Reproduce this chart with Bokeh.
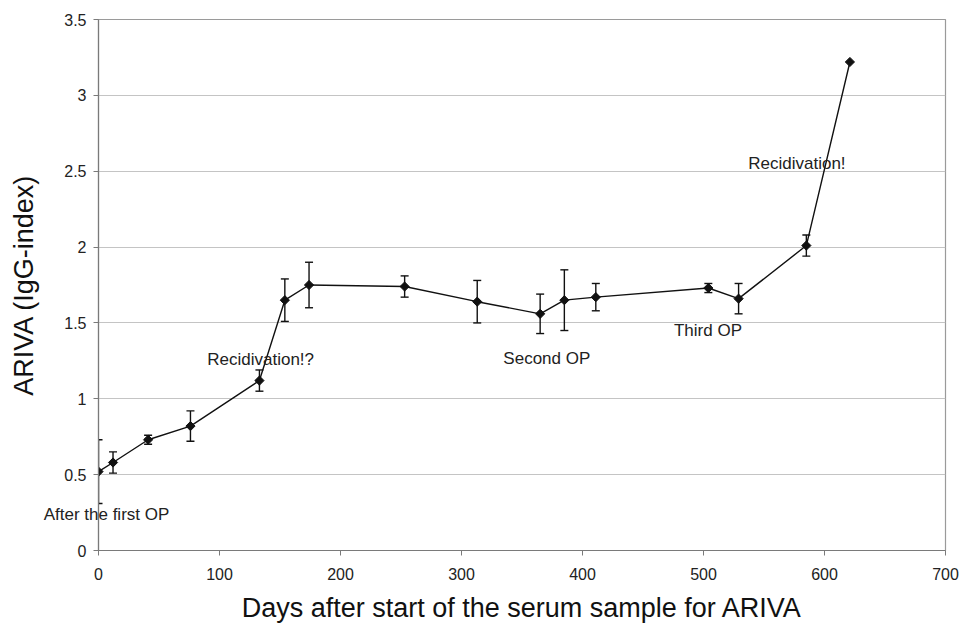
import math
from bokeh.plotting import figure
from bokeh.models import ColumnDataSource, Whisker, Label, FixedTicker, NumeralTickFormatter, Range1d
from bokeh.embed import file_html
from bokeh.resources import INLINE

# ---- data ----
days = [0, 12, 41, 76, 133, 154, 174, 253, 313, 365, 385, 411, 504, 529, 585, 621]
ariva = [0.52, 0.58, 0.73, 0.82, 1.12, 1.65, 1.75, 1.74, 1.64, 1.56, 1.65, 1.67, 1.73, 1.66, 2.01, 3.22]
err = [0.21, 0.07, 0.03, 0.10, 0.07, 0.14, 0.15, 0.07, 0.14, 0.13, 0.20, 0.09, 0.03, 0.10, 0.07, 0.0]

note_text = ["After the first OP", "Recidivation!?", "Second OP", "Third OP", "Recidivation!"]
note_x = [6.6, 134, 370.5, 503.7, 577.2]
note_y = [0.237, 1.259, 1.264, 1.448, 2.549]

x_ticks = [0, 100, 200, 300, 400, 500, 600, 700]
y_ticks = [0, 0.5, 1, 1.5, 2, 2.5, 3, 3.5]

FONT = "Liberation Sans"

p = figure(width=962, height=625, output_backend="svg", toolbar_location=None,
           x_range=Range1d(0, 700), y_range=Range1d(0, 3.5))
p.min_border_left = 98
p.min_border_right = 17
p.min_border_top = 18
p.min_border_bottom = 74
p.background_fill_color = "white"
p.border_fill_color = "white"
p.outline_line_color = "#9a9a9a"
p.outline_line_width = 1.2

# grid
p.xgrid.grid_line_color = None
p.ygrid.grid_line_color = "#c4c4c4"
p.ygrid.grid_line_width = 1.2

for ax in (p.xaxis[0], p.yaxis[0]):
    ax.axis_line_color = "#7a7a7a"
    ax.axis_line_width = 1.2
    ax.major_tick_line_color = "#7a7a7a"
    ax.major_tick_out = 5
    ax.major_tick_in = 0
    ax.minor_tick_line_color = None
    ax.major_label_text_font = FONT
    ax.major_label_text_font_size = "16px"
    ax.major_label_text_color = "#222222"
    ax.axis_label_text_font = FONT
    ax.axis_label_text_font_size = "27px"
    ax.axis_label_text_font_style = "normal"
    ax.axis_label_text_color = "#111111"

p.xaxis.ticker = FixedTicker(ticks=x_ticks)
p.yaxis.ticker = FixedTicker(ticks=y_ticks)
p.yaxis.formatter = NumeralTickFormatter(format="0.[0]")
p.xaxis.axis_label = "Days after start of the serum sample for ARIVA"
p.yaxis.axis_label = "ARIVA (IgG-index)"
p.xaxis.major_label_standoff = 12
p.xaxis.axis_label_standoff = 10
p.yaxis.major_label_standoff = 7
p.yaxis.axis_label_standoff = 22

# error bars
eb_x = [d for d, e in zip(days, err) if e > 0]
eb_lo = [a - e for a, e in zip(ariva, err) if e > 0]
eb_hi = [a + e for a, e in zip(ariva, err) if e > 0]
eb_src = ColumnDataSource(dict(x=eb_x, lower=eb_lo, upper=eb_hi))
wh = Whisker(base="x", lower="lower", upper="upper", source=eb_src,
             line_color="#111111", line_width=1.4)
for head in (wh.upper_head, wh.lower_head):
    head.size = 8
    head.line_color = "#111111"
    head.line_width = 1.4
p.add_layout(wh)

src = ColumnDataSource(dict(x=days, y=ariva))
p.line("x", "y", source=src, line_color="#111111", line_width=1.4)
p.scatter("x", "y", source=src, marker="square", angle=math.pi / 4, size=6.5,
          fill_color="#111111", line_color="#111111", line_width=1)

for i, (t, x, y) in enumerate(zip(note_text, note_x, note_y)):
    lab = Label(x=x, y=y, text=t, text_align="center", text_baseline="middle",
                text_font=FONT, text_font_size="17px", text_color="#222222")
    if i == 0:
        # placed in a side panel so it is not clipped at the frame edge
        p.add_layout(lab, "above")
    else:
        p.add_layout(lab)

open("out.html", "w").write(file_html(p, INLINE))
